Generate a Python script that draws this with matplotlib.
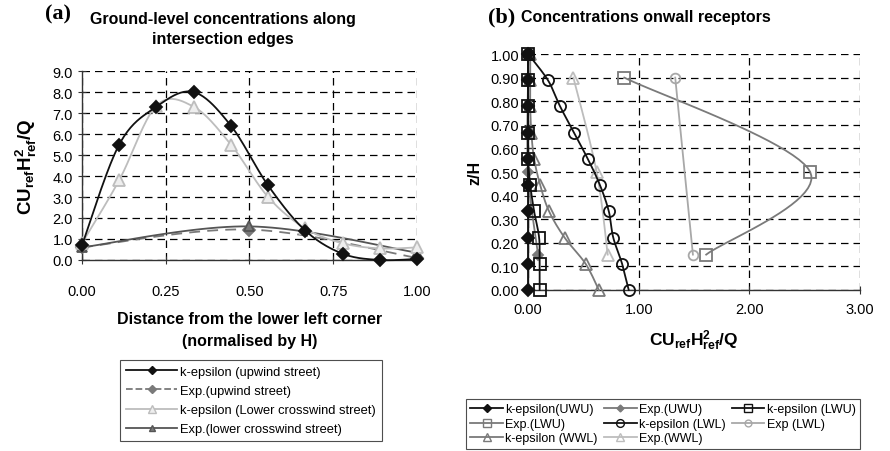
import numpy as np
import matplotlib
matplotlib.use("Agg")
import matplotlib.pyplot as plt
from matplotlib.ticker import MultipleLocator, FormatStrFormatter

plt.rcParams["font.family"] = ["Liberation Sans", "DejaVu Sans"]
plt.rcParams["mathtext.fontset"] = "custom"
plt.rcParams["mathtext.rm"] = "Liberation Sans"
plt.rcParams["mathtext.bf"] = "Liberation Sans:bold"

# (a) ground-level concentrations along intersection edges
dist_sim = [0.0, 1 / 9, 2 / 9, 3 / 9, 4 / 9, 5 / 9, 6 / 9, 7 / 9, 8 / 9, 1.0]
ke_upwind = [0.7, 5.5, 7.3, 8.0, 6.4, 3.55, 1.4, 0.3, 0.0, 0.05]
ke_crosswind = [0.8, 3.8, 7.35, 7.3, 5.5, 3.0, 1.5, 0.8, 0.55, 0.6]
dist_exp = [0.0, 0.5, 1.0]
exp_upwind = [0.6, 1.45, 0.1]
exp_crosswind = [0.6, 1.6, 0.35]

# (b) concentrations on wall receptors
z_sim = [0.0, 1 / 9, 2 / 9, 3 / 9, 4 / 9, 5 / 9, 6 / 9, 7 / 9, 8 / 9, 1.0]
ke_uwu = [0.0, 0.0, 0.0, 0.0, 0.0, 0.0, 0.0, 0.0, 0.0, 0.0]
ke_lwu = [0.105, 0.105, 0.10, 0.055, 0.02, 0.0, 0.0, 0.0, 0.0, 0.0]
ke_lwl = [0.91, 0.85, 0.77, 0.73, 0.65, 0.54, 0.415, 0.29, 0.18, 0.0]
ke_wwl = [0.64, 0.52, 0.33, 0.19, 0.11, 0.055, 0.03, 0.02, 0.02, 0.02]
z_exp = [0.15, 0.5, 0.9]
exp_uwu = [0.09, 0.0, 0.0]
exp_lwu = [1.61, 2.55, 0.87]
exp_wwl = [0.72, 0.62, 0.41]
z_exp_lwl = [0.15, 0.9]
exp_lwl = [1.49, 1.33]

BLACK = "#111111"
DARK = "#555555"
MID = "#7a7a7a"
LIGHT = "#bdbdbd"


def smooth(x, y, n=24):
    """Bezier smoothing through every point, like a spreadsheet 'smoothed line'."""
    p = np.column_stack([x, y]).astype(float)
    if len(p) < 3:
        return p[:, 0], p[:, 1]
    ext = np.vstack([p[0], p, p[-1]])
    t = np.linspace(0, 1, n)[:, None]
    out = []
    for i in range(1, len(ext) - 2):
        p0, p1, p2, p3 = ext[i - 1], ext[i], ext[i + 1], ext[i + 2]
        c1 = p1 + (p2 - p0) / 6
        c2 = p2 - (p3 - p1) / 6
        seg = ((1 - t) ** 3) * p1 + 3 * ((1 - t) ** 2) * t * c1 \
            + 3 * (1 - t) * t ** 2 * c2 + t ** 3 * p2
        out.append(seg if i == 1 else seg[1:])
    out = np.vstack(out)
    return out[:, 0], out[:, 1]


def series(ax, x, y, color, marker, mfc, ls="-", lw=1.3, ms=6, label=None, z=3):
    sx, sy = smooth(x, y)
    ax.plot(sx, sy, color=color, ls=ls, lw=lw, zorder=z, clip_on=False,
            dashes=(6, 4) if ls == "--" else (None, None))
    ax.plot(x, y, ls="none", marker=marker, ms=ms, mfc=mfc, mec=color, mew=1.3,
            zorder=z + 0.5, clip_on=False)
    # proxy for the legend entry
    ax.plot([], [], color=color, ls=ls, lw=lw, marker=marker, ms=ms * 0.7,
            mfc=mfc, mec=color, label=label)


def style_axes(ax):
    for s in ("top", "right"):
        ax.spines[s].set_visible(False)
    for s in ("left", "bottom"):
        ax.spines[s].set_linewidth(1.0)
        ax.spines[s].set_color("#333333")
    ax.grid(True, color="black", ls=(0, (6, 4)), lw=0.9)
    ax.set_axisbelow(True)
    ax.tick_params(direction="inout", length=6, width=0.8, labelsize=10.5, color="#333333")


fig = plt.figure(figsize=(8.9, 4.52), dpi=100)

# ---- panel (a)
ax1 = fig.add_axes([0.0921, 0.4226, 0.3764, 0.418])
series(ax1, dist_sim, ke_upwind, BLACK, "D", BLACK, label="k-epsilon (upwind street)", z=5)
series(ax1, dist_exp, exp_upwind, MID, "D", MID, ls="--", label="Exp.(upwind street)", z=3)
series(ax1, dist_sim, ke_crosswind, LIGHT, "^", "#eeeeee", ms=8, label="k-epsilon (Lower crosswind street)", z=4)
series(ax1, dist_exp, exp_crosswind, DARK, "^", MID, ms=7, label="Exp.(lower crosswind street)", z=3)
ax1.set_xlim(0, 1)
ax1.set_ylim(0, 9)
ax1.xaxis.set_major_locator(MultipleLocator(0.25))
ax1.yaxis.set_major_locator(MultipleLocator(1.0))
ax1.xaxis.set_major_formatter(FormatStrFormatter("%.2f"))
ax1.yaxis.set_major_formatter(FormatStrFormatter("%.1f"))
style_axes(ax1)
ax1.tick_params(axis="x", pad=14)
ax1.set_ylabel(r"$\mathbf{CU_{ref}H^{2}_{ref}/Q}$", fontsize=13.5, labelpad=10)
ax1.set_xlabel("Distance from the lower left corner\n(normalised by H)",
               fontsize=11.5, fontweight="bold", labelpad=10, linespacing=1.55)
fig.text(0.050, 0.967, "(a)", family="Liberation Serif", fontweight="bold",
         fontsize=16, va="center")
fig.text(0.250, 0.935, "Ground-level concentrations along\nintersection edges",
         fontsize=11.5, fontweight="bold", ha="center", va="center", linespacing=1.45)
leg1 = fig.legend(*ax1.get_legend_handles_labels(), loc="upper left",
                  bbox_to_anchor=(120 / 890, 1 - 361 / 452), ncol=1, fontsize=9.3,
                  frameon=True, fancybox=False, edgecolor="#222222", borderaxespad=0,
                  handlelength=4.0, handletextpad=0.2, labelspacing=0.55,
                  borderpad=0.45)
leg1.get_frame().set_linewidth(0.8)

# ---- panel (b)
ax2 = fig.add_axes([0.5933, 0.3562, 0.3730, 0.5221])
series(ax2, ke_uwu, z_sim, BLACK, "D", BLACK, label="k-epsilon(UWU)", z=5)
series(ax2, exp_uwu, z_exp, MID, "D", MID, ms=5, label="Exp.(UWU)", z=4)
series(ax2, ke_lwu, z_sim, BLACK, "s", "none", ms=8, label="k-epsilon (LWU)", z=5)
series(ax2, exp_lwu, z_exp, MID, "s", "none", ms=8, label="Exp.(LWU)", z=3)
series(ax2, ke_lwl, z_sim, BLACK, "o", "none", ms=8, label="k-epsilon (LWL)", z=5)
series(ax2, exp_lwl, z_exp_lwl, "#a8a8a8", "o", "none", ms=7, label="Exp (LWL)", z=3)
series(ax2, ke_wwl, z_sim, MID, "^", "none", ms=8, label="k-epsilon (WWL)", z=4)
series(ax2, exp_wwl, z_exp, LIGHT, "^", "none", ms=8, label="Exp.(WWL)", z=3)
ax2.set_xlim(0, 3)
ax2.set_ylim(0, 1)
ax2.xaxis.set_major_locator(MultipleLocator(1.0))
ax2.yaxis.set_major_locator(MultipleLocator(0.1))
ax2.xaxis.set_major_formatter(FormatStrFormatter("%.2f"))
ax2.yaxis.set_major_formatter(FormatStrFormatter("%.2f"))
style_axes(ax2)
ax2.tick_params(axis="x", pad=6)
ax2.set_ylabel("z/H", fontsize=11.5, fontweight="bold", labelpad=6)
ax2.set_xlabel(r"$\mathbf{CU_{ref}H^{2}_{ref}/Q}$", fontsize=12.5, labelpad=8)
fig.text(0.548, 0.962, "(b)", family="Liberation Serif", fontweight="bold",
         fontsize=16, va="center")
fig.text(0.585, 0.962, "Concentrations onwall receptors",
         fontsize=11.5, fontweight="bold", ha="left", va="center")

# legend fills column by column, so reorder to read row by row
h2, l2 = ax2.get_legend_handles_labels()
order = [0, 3, 6, 1, 4, 7, 2, 5]
leg2 = fig.legend([h2[i] for i in order], [l2[i] for i in order], loc="upper left",
                  bbox_to_anchor=(466 / 890, 1 - 400 / 452), ncol=3, fontsize=9.0,
                  frameon=True, fancybox=False, edgecolor="#222222", borderaxespad=0,
                  handlelength=2.6, handletextpad=0.2, labelspacing=0.2,
                  columnspacing=0.5, borderpad=0.35)
leg2.get_frame().set_linewidth(0.8)

fig.savefig("out.png", dpi=100, facecolor="white")
